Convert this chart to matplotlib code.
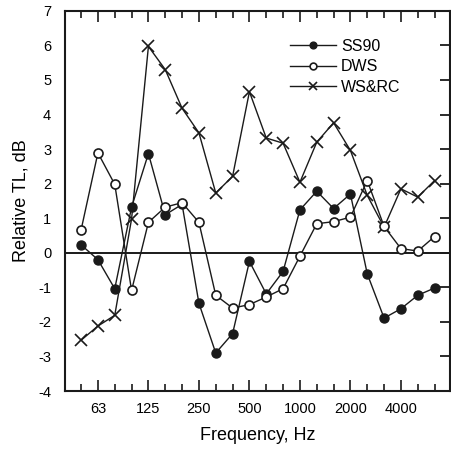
import matplotlib
matplotlib.use("Agg")
import matplotlib.pyplot as plt
from matplotlib.ticker import FixedLocator

plt.rcParams['font.family'] = ['Liberation Sans', 'DejaVu Sans']

freqs = [50, 63, 80, 100, 125, 160, 200, 250, 315, 400, 500, 630, 800,
         1000, 1250, 1600, 2000, 2500, 3150, 4000, 5000, 6300]
ss90 = [0.23, -0.2, -1.04, 1.32, 2.87, 1.1, 1.4, -1.46, -2.9, -2.34, -0.25,
        -1.19, -0.54, 1.24, 1.78, 1.28, 1.7, -0.61, -1.89, -1.62, -1.23, -1.02]
dws = [0.66, 2.89, 1.98, -1.09, 0.88, 1.32, 1.45, 0.88, -1.23, -1.6, -1.5,
       -1.28, -1.04, -0.1, 0.84, 0.9, 1.03, 2.09, 0.76, 0.12, 0.05, 0.47]
wsrc = [-2.53, -2.12, -1.81, 0.98, 5.97, 5.3, 4.18, 3.47, 1.73, 2.21, 4.66,
        3.32, 3.17, 2.04, 3.2, 3.76, 2.96, 1.66, 0.74, 1.85, 1.61, 2.09]
octave_labels = ['63', '125', '250', '500', '1000', '2000', '4000']

idx = list(range(len(freqs)))
octave_idx = [freqs.index(int(l)) for l in octave_labels]

fig = plt.figure(figsize=(4.52, 4.51), dpi=100)
ax = fig.add_axes([0.144, 0.133, 0.851, 0.843])

col = '#1a1a1a'
ax.axhline(0, color=col, lw=1.4, zorder=1)
ax.plot(idx, ss90, '-o', color=col, lw=1.0, ms=6.5, mfc=col, mec=col, label='SS90', zorder=3)
ax.plot(idx, dws, '-o', color=col, lw=1.0, ms=6.5, mfc='white', mec=col, mew=1.2, label='DWS', zorder=4)
ax.plot(idx, wsrc, '-x', color=col, lw=1.0, ms=8, mew=1.2, label='WS&RC', zorder=2)

ax.set_xlim(-0.95, 21.9)
ax.set_ylim(-4, 7)
ax.set_yticks(range(-4, 8))
ax.set_yticklabels([str(v) for v in range(-4, 8)], fontsize=10.5)
ax.xaxis.set_major_locator(FixedLocator(octave_idx))
ax.set_xticklabels(octave_labels, fontsize=10.5)
ax.xaxis.set_minor_locator(FixedLocator(idx + [21.9]))
ax.tick_params(axis='x', which='major', direction='in', length=8, width=1.2, pad=8, top=True, color=col)
ax.tick_params(axis='x', which='minor', direction='in', length=5, width=1.2, top=True, color=col)
ax.tick_params(axis='y', which='major', direction='in', length=7, width=1.3, pad=10,
               left=False, right=True, labelleft=True, labelright=False, color=col)

for s in ax.spines.values():
    s.set_linewidth(1.5)
    s.set_color(col)

ax.set_xlabel('Frequency, Hz', fontsize=13, labelpad=8)
ax.set_ylabel('Relative TL, dB', fontsize=13, labelpad=6)

leg = ax.legend(loc='upper right', bbox_to_anchor=(0.91, 0.965), frameon=False,
                fontsize=11.5, handlelength=2.9, handletextpad=0.3,
                labelspacing=0.35, markerscale=0.75)

fig.savefig('out.png', dpi=100)
